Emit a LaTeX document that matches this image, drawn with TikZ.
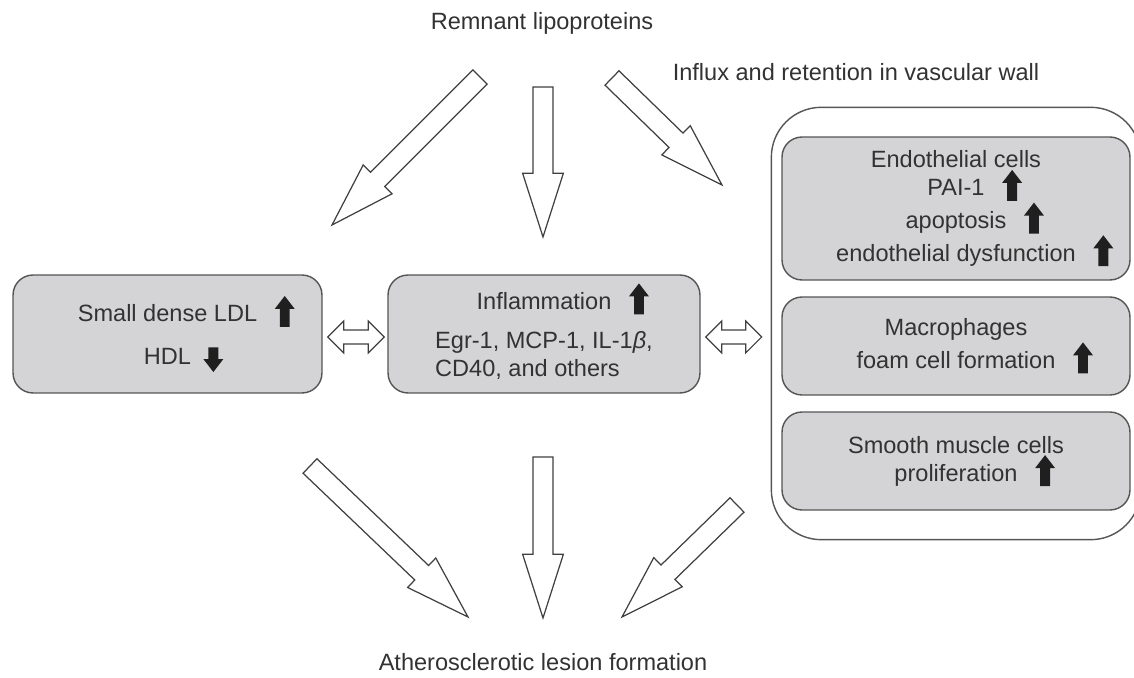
\documentclass[tikz,border=0pt]{standalone}
\usepackage{fontspec}
\setmainfont{Liberation Sans}
\usetikzlibrary{calc,fit}

\definecolor{boxgray}{RGB}{212,212,214}
\definecolor{edgegray}{RGB}{85,85,85}
\definecolor{inkgray}{RGB}{50,50,50}

\tikzset{glyph/.style={fill=black!88, sharp corners, draw=none}}

% small filled up/down arrows set after a line of text
\newcommand{\uparrowglyph}{\tikz[baseline=2.8pt,x=1pt,y=1pt,sharp corners]\fill[glyph] (-2.8,0) -- (2.8,0) -- (2.8,10.2) -- (5.7,10.2) -- (0,17.6) -- (-5.7,10.2) -- (-2.8,10.2) -- cycle;}
\newcommand{\downarrowglyph}{\tikz[baseline=4.5pt,x=1pt,y=1pt,sharp corners]\fill[glyph] (-2.8,14) -- (2.8,14) -- (2.8,7.4) -- (5.7,7.4) -- (0,0) -- (-5.7,7.4) -- (-2.8,7.4) -- cycle;}
\newcommand{\rises}{\rlap{\hspace{10pt}\uparrowglyph}}
\newcommand{\falls}{\rlap{\hspace{7pt}\downarrowglyph}}

% big hollow arrow from #1 (tail) to #2 (tip)
\newcommand{\fatarrow}[2]{%
  \draw[hollow] let \p1=(#1), \p2=(#2),
      \n1={atan2(\y2-\y1,\x2-\x1)}, \n2={\n1+90},
      \n3={veclen(\x2-\x1,\y2-\y1)-36.3} in
    ($(\p1)+(\n2:5.7pt)$) -- ($(\p1)+(\n1:\n3)+(\n2:5.7pt)$)
    -- ($(\p1)+(\n1:\n3)+(\n2:11.6pt)$) -- (\p2)
    -- ($(\p1)+(\n1:\n3)+(\n2:-11.6pt)$)
    -- ($(\p1)+(\n1:\n3)+(\n2:-5.7pt)$)
    -- ($(\p1)+(\n2:-5.7pt)$) -- cycle;}

% hollow two-headed horizontal arrow between #1 and #2
\newcommand{\twoway}[2]{%
  \draw[hollow] (#1) -- ++(16,-16) -- ++(0,9) -- ($(#2)+(-16,-7)$) -- ++(0,-9)
    -- (#2) -- ++(-16,16) -- ++(0,-9) -- ($(#1)+(16,7)$) -- ++(0,9) -- cycle;}

\begin{document}
\begin{tikzpicture}[
  x=0.02cm, y=-0.02cm,
  font=\fontsize{13.4pt}{16pt}\selectfont,
  text=inkgray,
  box/.style={draw=edgegray, line width=0.8pt, fill=boxgray, rounded corners=0.4cm, align=center, inner sep=0pt},
  wall/.style={draw=edgegray, line width=0.8pt, rounded corners=1cm},
  heading/.style={inner sep=0pt},
  hollow/.style={draw=black!75, line width=0.7pt, fill=white, line join=miter}
]
\useasboundingbox (0,0) rectangle (1134,678);
\clip (0,0) rectangle (1134,678);

\node[heading] (remnant) at (542,23) {Remnant lipoproteins};
\node[heading] (influx) at (856,72) {Influx and retention in vascular wall};
\node[heading] (lesion) at (543,662) {Atherosclerotic lesion formation};

\node[box, minimum width=6.18cm, minimum height=2.36cm] (ldl) at (167.5,334) {Small dense LDL\rises\\[8pt]HDL\falls};
\node[box, minimum width=6.24cm, minimum height=2.36cm] (infl) at (544,334) {\begin{tabular}{@{}l@{}}\multicolumn{1}{@{}c@{}}{Inflammation\rises}\\[6pt]Egr-1, MCP-1, IL-1\textit{β},\\CD40, and others\end{tabular}};

\node[box, minimum width=6.96cm, minimum height=2.86cm] (endo) at (956,208.5) {Endothelial cells\\PAI-1\rises\\apoptosis\rises\\endothelial dysfunction\rises};
\node[box, minimum width=6.96cm, minimum height=1.96cm] (macro) at (956,346) {Macrophages\\foam cell formation\rises};
\node[box, minimum width=6.96cm, minimum height=1.96cm] (smc) at (956,461) {Smooth muscle cells\\proliferation\rises};
\node[wall, fit=(endo) (macro) (smc), inner xsep=0.2cm, inner ysep=0.58cm] (wall) {};

% arrows from the remnants
\coordinate (tl0) at (480,77);  \coordinate (tl1) at (332,225);
\coordinate (tm0) at (543,87);  \coordinate (tm1) at (543,237);
\coordinate (tr0) at (612,78);  \coordinate (tr1) at (722,185);
\fatarrow{tl0}{tl1}
\fatarrow{tm0}{tm1}
\fatarrow{tr0}{tr1}

% arrows to the lesion
\coordinate (bl0) at (310,466); \coordinate (bl1) at (468,617);
\coordinate (bm0) at (543,457); \coordinate (bm1) at (543,618);
\coordinate (br0) at (737,505); \coordinate (br1) at (622,617);
\fatarrow{bl0}{bl1}
\fatarrow{bm0}{bm1}
\fatarrow{br0}{br1}

\coordinate (lx1) at ($(ldl.east)+(5,3)$);
\coordinate (lx2) at ($(infl.west)+(-3,3)$);
\coordinate (rx1) at ($(infl.east)+(5,3)$);
\coordinate (rx2) at ($(rx1 -| wall.west)+(-9,0)$);
\twoway{lx1}{lx2}
\twoway{rx1}{rx2}
\end{tikzpicture}
\end{document}
